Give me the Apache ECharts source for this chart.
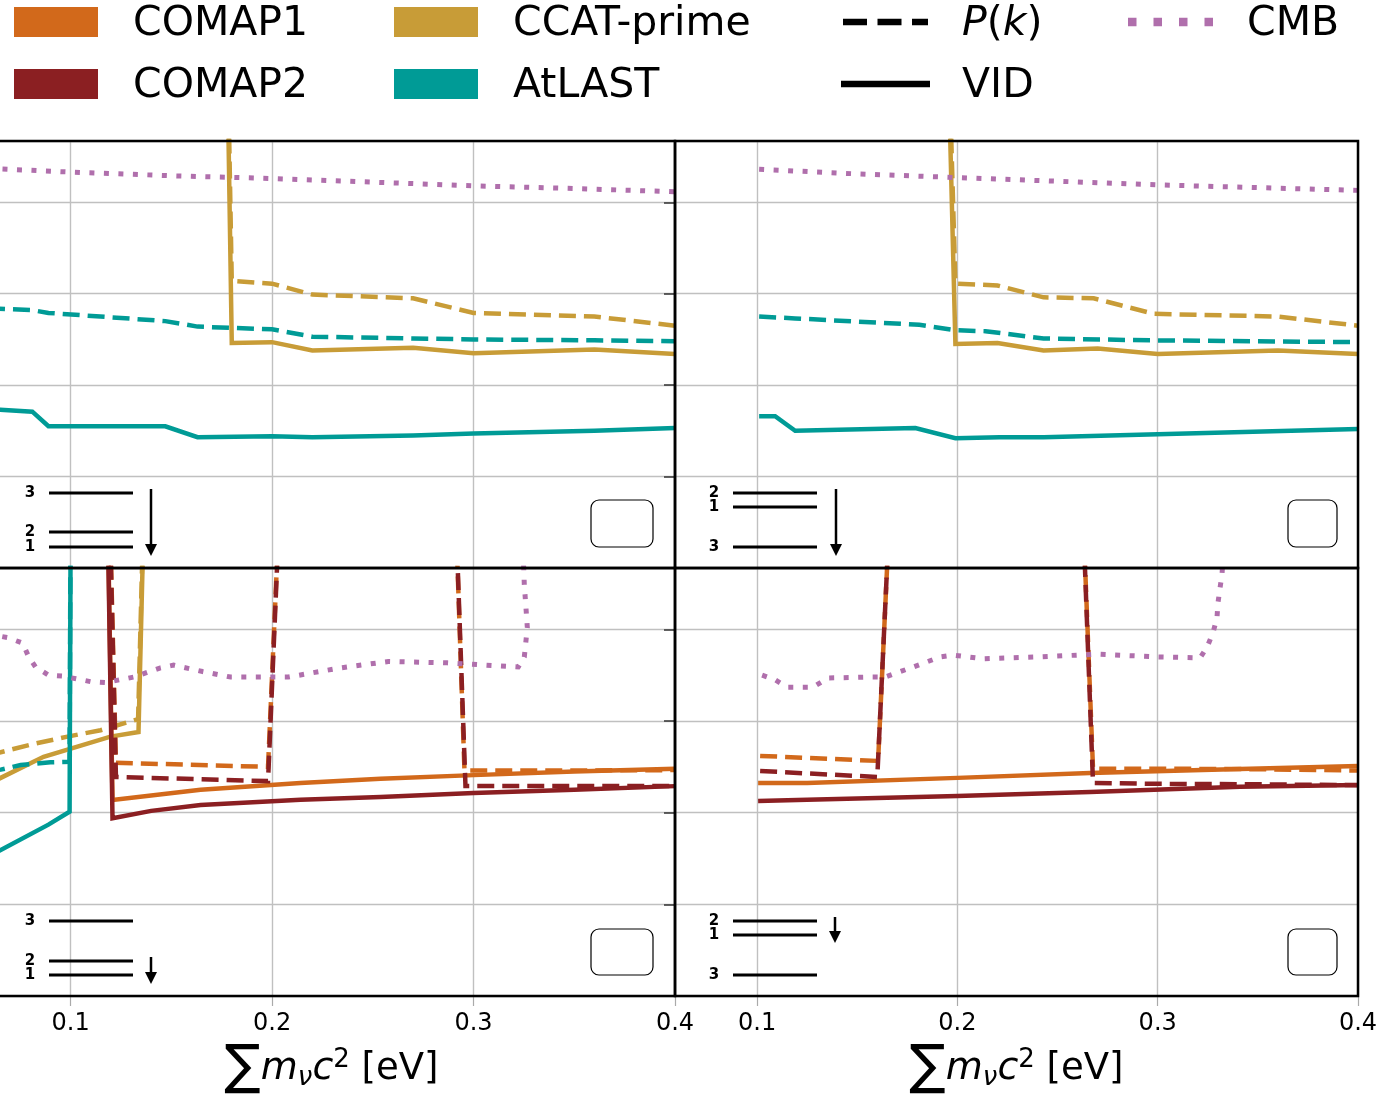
<!DOCTYPE html>
<html><head><meta charset="utf-8">
<script src="https://cdn.jsdelivr.net/npm/echarts@6/dist/echarts.min.js"></script>
<style>html,body{margin:0;padding:0;background:#fff;overflow:hidden;width:1381px;height:1095px;position:relative}
#chart{position:absolute;left:-12px;top:0;width:1393px;height:1095px}</style>
</head><body><div id="chart"></div>
<script>
// ---------------- DATA ----------------
var xTicks = [0.1, 0.2, 0.3, 0.4];

// Top-left panel
var tlCmbX = [0.059, 0.1, 0.15, 0.2, 0.25, 0.3, 0.35, 0.4];
var tlCmbY = [4.37, 4.33, 4.29, 4.26, 4.22, 4.18, 4.15, 4.115];
var tlCcatPkX = [0.176, 0.18, 0.2, 0.22, 0.27, 0.3, 0.36, 0.4];
var tlCcatPkY = [8, 3.14, 3.11, 2.99, 2.95, 2.79, 2.75, 2.65];
var tlCcatVidX = [0.176, 0.18, 0.2, 0.22, 0.27, 0.3, 0.36, 0.4];
var tlCcatVidY = [8, 2.46, 2.47, 2.38, 2.41, 2.35, 2.39, 2.34];
var tlAtlastPkX = [0.059, 0.081, 0.089, 0.147, 0.163, 0.2, 0.22, 0.27, 0.3, 0.36, 0.4];
var tlAtlastPkY = [2.84, 2.82, 2.79, 2.70, 2.64, 2.61, 2.53, 2.51, 2.50, 2.49, 2.48];
var tlAtlastVidX = [0.059, 0.081, 0.089, 0.147, 0.163, 0.2, 0.22, 0.27, 0.3, 0.36, 0.4];
var tlAtlastVidY = [1.74, 1.71, 1.55, 1.55, 1.43, 1.44, 1.43, 1.45, 1.47, 1.50, 1.53];

// Top-right panel
var trCmbX = [0.101, 0.15, 0.2, 0.25, 0.3, 0.35, 0.4];
var trCmbY = [4.36, 4.31, 4.27, 4.23, 4.19, 4.16, 4.13];
var trCcatPkX = [0.1926, 0.199, 0.22, 0.243, 0.268, 0.298, 0.36, 0.4];
var trCcatPkY = [8, 3.11, 3.09, 2.96, 2.95, 2.78, 2.75, 2.65];
var trCcatVidX = [0.1926, 0.199, 0.22, 0.243, 0.27, 0.3, 0.36, 0.4];
var trCcatVidY = [8, 2.45, 2.46, 2.38, 2.40, 2.34, 2.38, 2.34];
var trAtlastPkX = [0.101, 0.119, 0.181, 0.199, 0.214, 0.243, 0.296, 0.4];
var trAtlastPkY = [2.75, 2.73, 2.66, 2.60, 2.59, 2.51, 2.49, 2.47];
var trAtlastVidX = [0.101, 0.109, 0.119, 0.179, 0.199, 0.221, 0.243, 0.4];
var trAtlastVidY = [1.66, 1.66, 1.50, 1.53, 1.42, 1.43, 1.43, 1.52];

// Bottom-left panel
var blCmbX = [0.059, 0.0688, 0.0762, 0.0792, 0.0826, 0.0891, 0.096, 0.1099, 0.1174, 0.1313, 0.1446, 0.1511, 0.1655, 0.1794, 0.2081, 0.2339, 0.2577, 0.287, 0.3222, 0.3252, 0.3267, 0.3262, 0.3252, 0.3245];
var blCmbY = [3.95, 3.91, 3.85, 3.70, 3.59, 3.50, 3.49, 3.43, 3.42, 3.48, 3.58, 3.61, 3.54, 3.48, 3.48, 3.58, 3.65, 3.635, 3.59, 3.70, 4.02, 4.18, 4.49, 4.9];
var blCcatPkX = [0.059, 0.0653, 0.0816, 0.0985, 0.1149, 0.1335, 0.1394];
var blCcatPkY = [2.63, 2.66, 2.75, 2.83, 2.90, 3.02, 8];
var blCcatVidX = [0.059, 0.0653, 0.0866, 0.1198, 0.1337, 0.1394];
var blCcatVidY = [2.31, 2.38, 2.61, 2.83, 2.88, 8];
var blAtlastPkX = [0.059, 0.0653, 0.0752, 0.09, 0.0995, 0.1005];
var blAtlastPkY = [2.45, 2.47, 2.52, 2.55, 2.555, 8];
var blAtlastVidX = [0.059, 0.089, 0.0995, 0.1005];
var blAtlastVidY = [1.52, 1.87, 2.01, 8];
var blComap1PkX = [0.1164, 0.1225, 0.198, 0.205, 0.29, 0.2955, 0.35, 0.4];
var blComap1PkY = [8, 2.545, 2.50, 6, 6, 2.46, 2.46, 2.465];
var blComap1VidX = [0.1164, 0.1208, 0.1645, 0.2141, 0.2538, 0.3, 0.35, 0.4];
var blComap1VidY = [8, 2.14, 2.25, 2.325, 2.37, 2.41, 2.45, 2.48];
var blComap2PkX = [0.1164, 0.1225, 0.198, 0.205, 0.29, 0.296, 0.35, 0.4];
var blComap2PkY = [8, 2.39, 2.345, 6, 6, 2.29, 2.29, 2.29];
var blComap2VidX = [0.1164, 0.1208, 0.14, 0.1645, 0.2141, 0.2538, 0.3, 0.35, 0.4];
var blComap2VidY = [8, 1.94, 2.02, 2.085, 2.14, 2.17, 2.215, 2.25, 2.29];

// Bottom-right panel
var brCmbX = [0.1025, 0.109, 0.115, 0.128, 0.1354, 0.1574, 0.1639, 0.1779, 0.1914, 0.1978, 0.2128, 0.2413, 0.2697, 0.2997, 0.3212, 0.3247, 0.3277, 0.3296, 0.3301, 0.3311, 0.3321, 0.333];
var brCmbY = [3.50, 3.45, 3.37, 3.37, 3.47, 3.48, 3.48, 3.59, 3.70, 3.72, 3.68, 3.70, 3.73, 3.70, 3.69, 3.81, 3.97, 4.13, 4.29, 4.45, 4.60, 4.9];
var brComap1PkX = [0.1015, 0.1604, 0.1677, 0.2614, 0.2677, 0.3, 0.35, 0.4];
var brComap1PkY = [2.62, 2.565, 6, 6, 2.48, 2.48, 2.475, 2.46];
var brComap1VidX = [0.1005, 0.125, 0.2, 0.2662, 0.3411, 0.4];
var brComap1VidY = [2.325, 2.325, 2.38, 2.434, 2.478, 2.51];
var brComap2PkX = [0.1015, 0.16, 0.1677, 0.2614, 0.2677, 0.3, 0.35, 0.4];
var brComap2PkY = [2.455, 2.39, 6, 6, 2.325, 2.315, 2.31, 2.30];
var brComap2VidX = [0.1005, 0.125, 0.2, 0.2662, 0.3411, 0.4];
var brComap2VidY = [2.129, 2.14, 2.183, 2.227, 2.282, 2.303];

// ---------------- STYLE ----------------
var OX = 12; // the chart canvas starts 12px left of the visible page
var C = { comap1: '#d2691b', comap2: '#8b1f22', ccat: '#c89c37', atlast: '#009b96', cmb: '#b06fac' };
var FONT = 'DejaVu Sans';
var LW = 4.5;
var STY = {
  solid: { type: 'solid', width: LW },
  dashed: { type: [17, 8], width: LW, cap: 'butt' },
  dotted: { type: [5, 9.5], width: 5, cap: 'butt' }
};

function pts(xs, ys) { return xs.map(function (x, i) { return [x, ys[i]]; }); }
function line(panel, xs, ys, color, sty) {
  return {
    type: 'line', xAxisIndex: panel, yAxisIndex: panel, data: pts(xs, ys),
    showSymbol: false, symbol: 'none', silent: true, animation: false, clip: true,
    lineStyle: Object.assign({ color: color, join: 'miter' }, STY[sty])
  };
}

var series = [
  line(0, tlCcatPkX, tlCcatPkY, C.ccat, 'dashed'),
  line(0, tlCcatVidX, tlCcatVidY, C.ccat, 'solid'),
  line(0, tlAtlastPkX, tlAtlastPkY, C.atlast, 'dashed'),
  line(0, tlAtlastVidX, tlAtlastVidY, C.atlast, 'solid'),
  line(0, tlCmbX, tlCmbY, C.cmb, 'dotted'),
  line(1, trCcatPkX, trCcatPkY, C.ccat, 'dashed'),
  line(1, trCcatVidX, trCcatVidY, C.ccat, 'solid'),
  line(1, trAtlastPkX, trAtlastPkY, C.atlast, 'dashed'),
  line(1, trAtlastVidX, trAtlastVidY, C.atlast, 'solid'),
  line(1, trCmbX, trCmbY, C.cmb, 'dotted'),
  line(2, blCcatPkX, blCcatPkY, C.ccat, 'dashed'),
  line(2, blCcatVidX, blCcatVidY, C.ccat, 'solid'),
  line(2, blAtlastPkX, blAtlastPkY, C.atlast, 'dashed'),
  line(2, blAtlastVidX, blAtlastVidY, C.atlast, 'solid'),
  line(2, blComap1PkX, blComap1PkY, C.comap1, 'dashed'),
  line(2, blComap1VidX, blComap1VidY, C.comap1, 'solid'),
  line(2, blComap2PkX, blComap2PkY, C.comap2, 'dashed'),
  line(2, blComap2VidX, blComap2VidY, C.comap2, 'solid'),
  line(2, blCmbX, blCmbY, C.cmb, 'dotted'),
  line(3, brComap1PkX, brComap1PkY, C.comap1, 'dashed'),
  line(3, brComap1VidX, brComap1VidY, C.comap1, 'solid'),
  line(3, brComap2PkX, brComap2PkY, C.comap2, 'dashed'),
  line(3, brComap2VidX, brComap2VidY, C.comap2, 'solid'),
  line(3, brCmbX, brCmbY, C.cmb, 'dotted')
];

var gridBoxes = [
  { left: 0, top: 141, width: 687, height: 427 },
  { left: 687, top: 141, width: 683, height: 427 },
  { left: 0, top: 568, width: 687, height: 428 },
  { left: 687, top: 568, width: 683, height: 428 }
];
var grids = gridBoxes.map(function (g) {
  return Object.assign({ show: false, containLabel: false, outerBoundsMode: 'none' }, g);
});

var splitLineStyle = { show: true, lineStyle: { color: '#c0c0c0', width: 1.4 } };
var xName = '{s|∑}{i|m}{sub|ν}{i|c}{sup|2}{r| [eV]}';
var xAxes = [0, 1, 2, 3].map(function (k) {
  var bottom = k >= 2;
  return {
    type: 'value', gridIndex: k, min: 0.059, max: 0.4,
    axisLine: { show: false },
    axisTick: { show: bottom, length: 10, lineStyle: { color: '#aaaaaa', width: 1.2 }, customValues: xTicks },
    axisLabel: { show: bottom, customValues: xTicks, fontFamily: FONT, fontSize: 24, color: '#000', margin: 16,
      formatter: function (v) { return v.toFixed(1); } },
    splitLine: splitLineStyle,
    name: bottom ? xName : '', nameLocation: 'middle', nameGap: 45,
    nameTextStyle: {
      fontFamily: FONT, color: '#000',
      rich: {
        s: { fontSize: 54, fontFamily: FONT, lineHeight: 56, verticalAlign: 'middle' },
        i: { fontSize: 38, fontFamily: FONT, fontStyle: 'italic', lineHeight: 56, verticalAlign: 'middle' },
        sub: { fontSize: 26, fontFamily: FONT, fontStyle: 'italic', lineHeight: 56, verticalAlign: 'bottom', padding: [0, 0, 6, 0] },
        sup: { fontSize: 26, fontFamily: FONT, lineHeight: 56, verticalAlign: 'top', padding: [6, 0, 0, 0] },
        r: { fontSize: 37, fontFamily: FONT, lineHeight: 56, verticalAlign: 'middle' }
      }
    }
  };
});
var yAxes = [0, 1, 2, 3].map(function (k) {
  return {
    type: 'value', gridIndex: k, min: 0, max: 4.67, interval: 1,
    axisLine: { show: false },
    axisTick: { show: true, length: 11, lineStyle: { color: '#333', width: 1.5 } },
    axisLabel: { show: false },
    splitLine: splitLineStyle
  };
});

// ---------------- ANNOTATIONS ----------------
var graphic = [];
// panel frames (drawn above the series like matplotlib spines)
gridBoxes.forEach(function (g) {
  graphic.push({ type: 'rect', silent: true, z: 100, shape: { x: g.left, y: g.top, width: g.width, height: g.height },
    style: { fill: 'none', stroke: '#000', lineWidth: 2.5 } });
});
function txt(x, y, t, size, extra) {
  graphic.push({ type: 'text', x: x + OX, y: y, silent: true, z: 101,
    style: Object.assign({ text: t, fontFamily: FONT, fontSize: size, fill: '#000', textAlign: 'left', textVerticalAlign: 'middle' }, extra || {}) });
}
function seg(x1, y1, x2, y2, color, w, dash) {
  graphic.push({ type: 'line', silent: true, z: 101, shape: { x1: x1 + OX, y1: y1, x2: x2 + OX, y2: y2 },
    style: { stroke: color, lineWidth: w, lineDash: dash || null, lineCap: 'butt' } });
}
var legendPatches = [
  { x: 14, y: 22, c: C.comap1, t: 'COMAP1' },
  { x: 14, y: 84, c: C.comap2, t: 'COMAP2' },
  { x: 394, y: 22, c: C.ccat, t: 'CCAT-prime' },
  { x: 394, y: 84, c: C.atlast, t: 'AtLAST' }
];
legendPatches.forEach(function (p) {
  graphic.push({ type: 'rect', silent: true, z: 101, shape: { x: p.x + OX, y: p.y - 15, width: 84, height: 30 }, style: { fill: p.c } });
  txt(p.x + 119, p.y + 2, p.t, 41);
});
seg(843, 22, 928, 22, '#000', 6.5, [24, 10.5]);
graphic.push({ type: 'text', x: 962 + OX, y: 24, silent: true, z: 101, style: {
  text: '{i|P}{n|(}{i|k}{n|)}', fontFamily: FONT, fontSize: 41, fill: '#000', textVerticalAlign: 'middle',
  rich: { i: { fontStyle: 'italic', fontSize: 41, fontFamily: FONT }, n: { fontSize: 41, fontFamily: FONT } } } });
seg(841, 84, 930, 84, '#000', 6.5);
txt(962, 86, 'VID', 41);
seg(1128, 22, 1216, 22, C.cmb, 8.5, [8.5, 17]);
txt(1247, 24, 'CMB', 41);

function inset(lx, labels, ys, ax, ay1, ay2) {
  labels.forEach(function (l, i) {
    txt(lx, ys[i], l, 15, { fontWeight: 'bold', textAlign: 'center' });
    seg(lx + 19, ys[i], lx + 103, ys[i], '#000', 3);
  });
  seg(ax, ay1, ax, ay2 - 10, '#000', 2.5);
  graphic.push({ type: 'polygon', silent: true, z: 101, shape: { points: [[ax - 6 + OX, ay2 - 12], [ax + 6 + OX, ay2 - 12], [ax + OX, ay2]] }, style: { fill: '#000' } });
}
inset(30, ['3', '2', '1'], [493, 532, 547], 151, 489, 556);
inset(714, ['2', '1', '3'], [493, 507, 547], 836, 489, 556);
inset(30, ['3', '2', '1'], [921, 961, 975], 151, 957, 984);
inset(714, ['2', '1', '3'], [921, 935, 975], 835, 917, 943);

[[591, 500, 62, 47], [1288, 500, 49, 47], [591, 929, 62, 46], [1288, 929, 49, 46]].forEach(function (b) {
  graphic.push({ type: 'rect', silent: true, z: 101, shape: { x: b[0] + OX, y: b[1], width: b[2], height: b[3], r: 8 },
    style: { fill: '#fff', stroke: '#000', lineWidth: 1.2 } });
});

var chart = echarts.init(document.getElementById('chart'), null, { renderer: 'canvas' });
chart.setOption({
  animation: false,
  backgroundColor: '#fff',
  grid: grids,
  xAxis: xAxes,
  yAxis: yAxes,
  series: series,
  graphic: graphic
});
</script></body></html>
